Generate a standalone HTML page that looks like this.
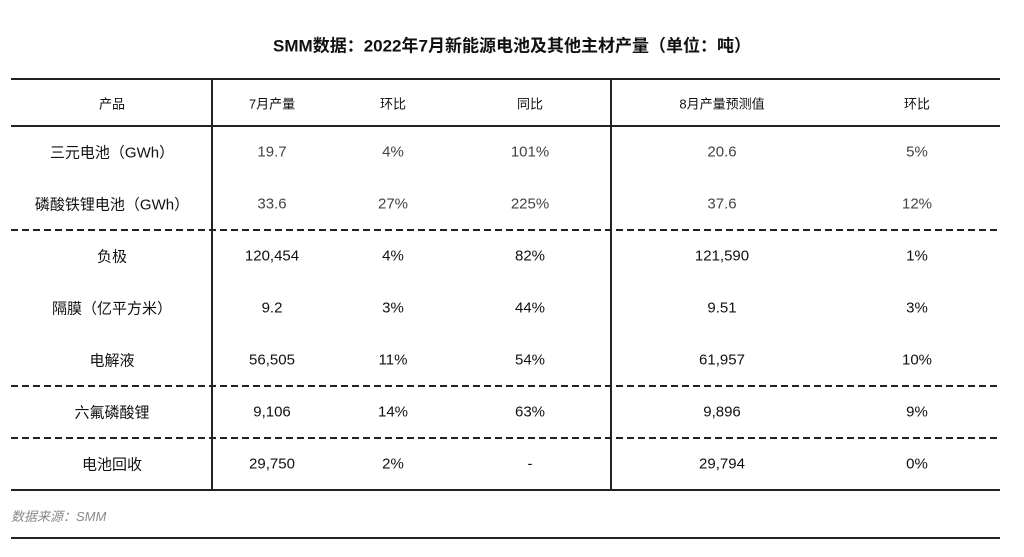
<!DOCTYPE html>
<html><head><meta charset="utf-8"><style>
body{margin:0;width:1024px;height:557px;background:#fff;position:relative;overflow:hidden;font-family:"Liberation Sans","Noto Sans CJK SC",sans-serif;}
.t{position:absolute;transform:translate(-50%,-50%);white-space:nowrap;font-size:15px;color:#111;}
.g{color:#444;}
.h{font-size:13px;}
.l{position:absolute;left:11px;width:989px;}
.d{height:1.5px;background:repeating-linear-gradient(90deg,#222 0 7px,transparent 7px 11px);}
.v{position:absolute;top:79px;height:412px;width:1.5px;background:#222;}
</style></head><body>
<div class="t" style="left:512px;top:44px;font-size:17px;font-weight:bold;">SMM数据：2022年7月新能源电池及其他主材产量（单位：吨）</div>
<div class="l" style="top:78px;height:2px;background:#222"></div>
<div class="l" style="top:125px;height:1.5px;background:#222"></div>
<div class="l d" style="top:229px"></div>
<div class="l d" style="top:385px"></div>
<div class="l d" style="top:437px"></div>
<div class="l" style="top:489px;height:1.5px;background:#222"></div>
<div class="l" style="top:537px;height:1.5px;background:#222"></div>
<div class="v" style="left:211px"></div>
<div class="v" style="left:610px"></div>
<div class="t h" style="left:112px;top:103px">产品</div>
<div class="t h" style="left:272px;top:103px">7月产量</div>
<div class="t h" style="left:393px;top:103px">环比</div>
<div class="t h" style="left:530px;top:103px">同比</div>
<div class="t h" style="left:722px;top:103px">8月产量预测值</div>
<div class="t h" style="left:917px;top:103px">环比</div>

<div class="t" style="left:112px;top:152px">三元电池（GWh）</div>
<div class="t g" style="left:272px;top:152px">19.7</div><div class="t g" style="left:393px;top:152px">4%</div><div class="t g" style="left:530px;top:152px">101%</div><div class="t g" style="left:722px;top:152px">20.6</div><div class="t g" style="left:917px;top:152px">5%</div>

<div class="t" style="left:112px;top:204px">磷酸铁锂电池（GWh）</div>
<div class="t g" style="left:272px;top:204px">33.6</div><div class="t g" style="left:393px;top:204px">27%</div><div class="t g" style="left:530px;top:204px">225%</div><div class="t g" style="left:722px;top:204px">37.6</div><div class="t g" style="left:917px;top:204px">12%</div>

<div class="t" style="left:112px;top:256px">负极</div>
<div class="t" style="left:272px;top:256px">120,454</div><div class="t" style="left:393px;top:256px">4%</div><div class="t" style="left:530px;top:256px">82%</div><div class="t" style="left:722px;top:256px">121,590</div><div class="t" style="left:917px;top:256px">1%</div>

<div class="t" style="left:112px;top:308px">隔膜（亿平方米）</div>
<div class="t" style="left:272px;top:308px">9.2</div><div class="t" style="left:393px;top:308px">3%</div><div class="t" style="left:530px;top:308px">44%</div><div class="t" style="left:722px;top:308px">9.51</div><div class="t" style="left:917px;top:308px">3%</div>

<div class="t" style="left:112px;top:360px">电解液</div>
<div class="t" style="left:272px;top:360px">56,505</div><div class="t" style="left:393px;top:360px">11%</div><div class="t" style="left:530px;top:360px">54%</div><div class="t" style="left:722px;top:360px">61,957</div><div class="t" style="left:917px;top:360px">10%</div>

<div class="t" style="left:112px;top:412px">六氟磷酸锂</div>
<div class="t" style="left:272px;top:412px">9,106</div><div class="t" style="left:393px;top:412px">14%</div><div class="t" style="left:530px;top:412px">63%</div><div class="t" style="left:722px;top:412px">9,896</div><div class="t" style="left:917px;top:412px">9%</div>

<div class="t" style="left:112px;top:464px">电池回收</div>
<div class="t" style="left:272px;top:464px">29,750</div><div class="t" style="left:393px;top:464px">2%</div><div class="t" style="left:530px;top:464px">-</div><div class="t" style="left:722px;top:464px">29,794</div><div class="t" style="left:917px;top:464px">0%</div>

<div style="position:absolute;left:11px;top:506px;font-size:13px;font-style:italic;color:#888;">数据来源：SMM</div>
</body></html>
